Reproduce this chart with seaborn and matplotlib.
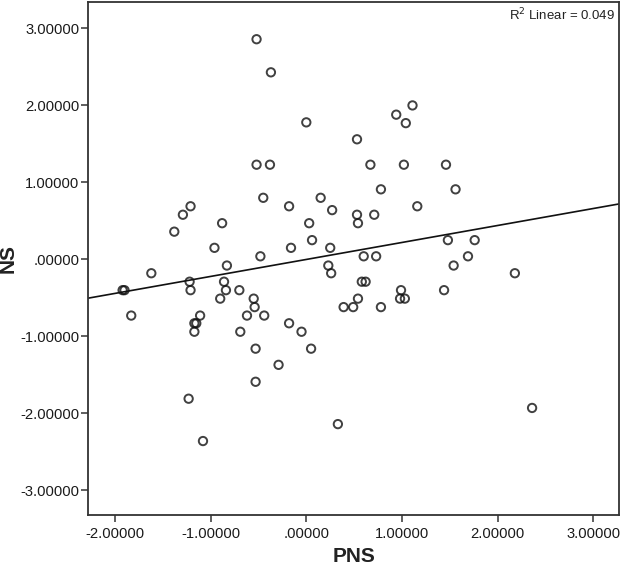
import numpy as np
import pandas as pd
import matplotlib
matplotlib.use("Agg")
import matplotlib.pyplot as plt
import seaborn as sns
from matplotlib.ticker import FuncFormatter

# standardized scores (PNS on x, NS on y)
pns = [-0.52, -0.37, 0.00, -0.52, -0.38, -0.45, 1.11, 0.94, 1.04, 0.53,
       0.67, 1.02, 1.46, 0.78, 1.56, 0.15, -0.18, 0.27, 1.16, 0.53,
       0.54, 0.71, 0.03, -1.21, -1.29, -1.38, -0.88, -0.96, -0.16, 0.06,
       0.25, -0.48, -0.83, 0.23, 0.26, 0.60, 0.73, 1.48, 1.76, 1.69,
       1.54, 2.18, -1.62, -1.92, -1.90, -1.83, -1.22, -1.21, -0.86, -0.84,
       -0.90, -0.70, -0.55, -0.54, -0.62, -0.44, -1.11, -1.17, -1.15, -1.17,
       -0.69, -0.18, -0.05, -0.53, 0.05, -0.29, -0.53, -1.23, -1.08, 0.33,
       0.39, 0.49, 0.54, 0.58, 0.62, 0.78, 0.99, 0.98, 1.03, 1.44, 2.36]
ns = [2.86, 2.43, 1.78, 1.23, 1.23, 0.80, 2.00, 1.88, 1.77, 1.56,
      1.23, 1.23, 1.23, 0.91, 0.91, 0.80, 0.69, 0.64, 0.69, 0.58,
      0.47, 0.58, 0.47, 0.69, 0.58, 0.36, 0.47, 0.15, 0.15, 0.25,
      0.15, 0.04, -0.08, -0.08, -0.18, 0.04, 0.04, 0.25, 0.25, 0.04,
      -0.08, -0.18, -0.18, -0.40, -0.40, -0.73, -0.29, -0.40, -0.29, -0.40,
      -0.51, -0.40, -0.51, -0.62, -0.73, -0.73, -0.73, -0.83, -0.83, -0.94,
      -0.94, -0.83, -0.94, -1.16, -1.16, -1.37, -1.59, -1.81, -2.36, -2.14,
      -0.62, -0.62, -0.51, -0.29, -0.29, -0.62, -0.40, -0.51, -0.51, -0.40, -1.93]

x_ticks = [-2, -1, 0, 1, 2, 3]
y_ticks = [-3, -2, -1, 0, 1, 2, 3]
r2_label = "R$^2$ Linear = 0.049"

df = pd.DataFrame({"PNS": pns, "NS": ns})

sns.set_style("white")
plt.rcParams["font.family"] = ["Liberation Sans", "DejaVu Sans"]

fig = plt.figure(figsize=(6.21, 5.69), dpi=100)
ax = fig.add_axes([0.142, 0.095, 0.855, 0.901])
ax.set_xlim(-2.28, 3.27)
ax.set_ylim(-3.32, 3.34)

sns.regplot(data=df, x="PNS", y="NS", ax=ax, ci=None, truncate=False, color="black",
            scatter_kws=dict(facecolors="none", edgecolors="#111111", s=36, linewidths=1.4),
            line_kws=dict(color="#111111", lw=1.2))

ax.set_xlim(-2.28, 3.27)
ax.set_ylim(-3.32, 3.34)

def fmt(v, pos):
    s = f"{v:.5f}"
    if s == "0.00000" or s == "-0.00000":
        return ".00000"
    return s

ax.set_xticks(x_ticks)
ax.set_yticks(y_ticks)
ax.xaxis.set_major_formatter(FuncFormatter(fmt))
ax.yaxis.set_major_formatter(FuncFormatter(fmt))
ax.tick_params(axis="both", which="major", direction="out", length=5, width=1.1,
               color="#333333", labelsize=10.6, labelcolor="#1a1a1a", pad=1.5,
               bottom=True, left=True)
ax.tick_params(axis="x", pad=4)

for sp in ax.spines.values():
    sp.set_visible(True)
    sp.set_color("#333333")
    sp.set_linewidth(1.3)

ax.set_xlabel("PNS", fontsize=15, fontweight="bold", color="#222222", labelpad=4)
ax.set_ylabel("NS", fontsize=15, fontweight="bold", color="#222222")
ax.yaxis.set_label_coords(-0.132, 0.5)

ax.text(0.993, 0.992, r2_label, transform=ax.transAxes, ha="right", va="top",
        fontsize=9.5, color="#222222")

fig.savefig("out.png", dpi=100)
